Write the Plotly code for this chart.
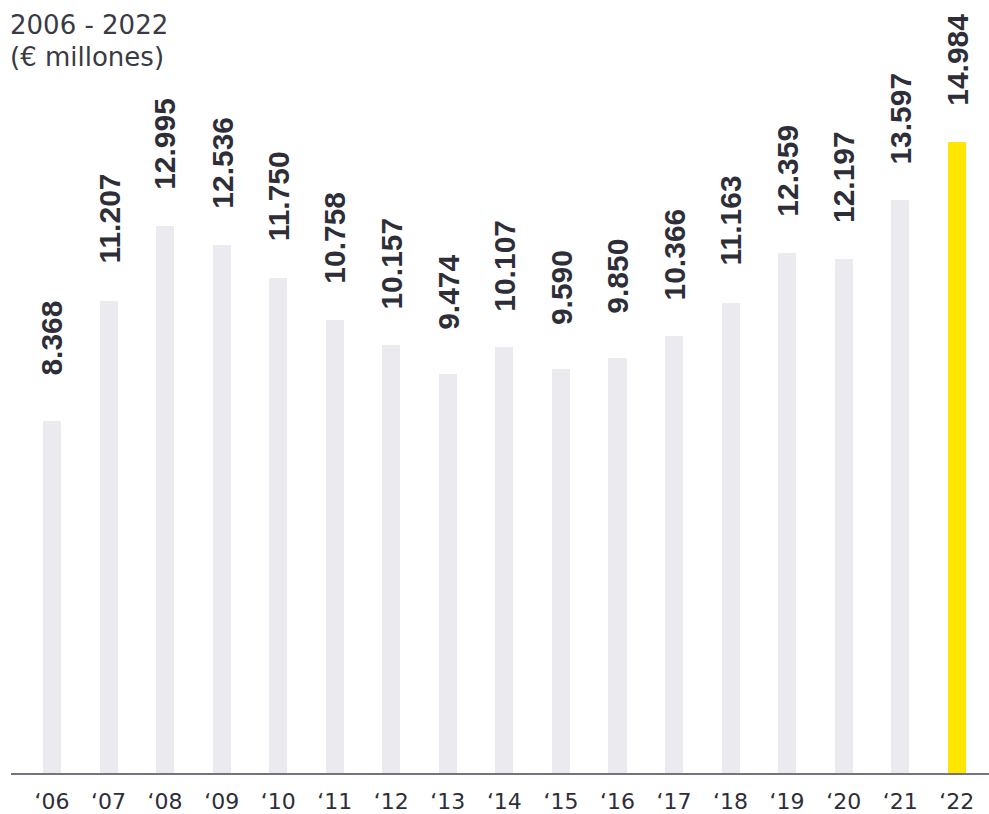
import plotly.graph_objects as go

years = ["\u201806", "\u201807", "\u201808", "\u201809", "\u201810", "\u201811", "\u201812", "\u201813",
         "\u201814", "\u201815", "\u201816", "\u201817", "\u201818", "\u201819", "\u201820", "\u201821", "\u201822"]
values = [8368, 11207, 12995, 12536, 11750, 10758, 10157, 9474,
          10107, 9590, 9850, 10366, 11163, 12359, 12197, 13597, 14984]
title_line1 = "2006 - 2022"
title_line2 = "(\u20ac millones)"

GRAY = "#ebebef"
YELLOW = "#ffe600"
TEXT = "#2e2e38"

colors = [GRAY] * (len(values) - 1) + [YELLOW]

fig = go.Figure()
fig.add_trace(go.Bar(
    x=years, y=values, marker=dict(color=colors, line=dict(width=0)),
    width=0.32, hoverinfo="skip",
))

def fmt(v):
    return f"{v:,}".replace(",", ".")

annotations = []
for yr, v in zip(years, values):
    annotations.append(dict(
        x=yr, y=v, xref="x", yref="y", text="<b>" + fmt(v) + "</b>", showarrow=False,
        textangle=-90, xanchor="center", yanchor="middle", yshift=82,
        font=dict(family="Liberation Sans", size=30, color=TEXT),
    ))
annotations.append(dict(
    x=0, y=1, xref="paper", yref="paper", text=title_line1, showarrow=False,
    xanchor="left", yanchor="middle", xshift=-3, yshift=15,
    font=dict(family="DejaVu Sans", size=26, color="#3a3a44"),
))
annotations.append(dict(
    x=0, y=1, xref="paper", yref="paper", text=title_line2, showarrow=False,
    xanchor="left", yanchor="middle", xshift=-3, yshift=-17,
    font=dict(family="DejaVu Sans", size=26, color="#3a3a44"),
))

fig.update_layout(
    width=989, height=814,
    margin=dict(l=11, r=0, t=40, b=41, autoexpand=False),
    paper_bgcolor="white", plot_bgcolor="white",
    showlegend=False,
    bargap=0,
    annotations=annotations,
    xaxis=dict(
        type="category", range=[-0.725, 16.57],
        showline=True, linecolor="#747480", linewidth=1.5,
        showgrid=False, zeroline=False, automargin=False,
        ticks="", ticklabelstandoff=8,
        tickfont=dict(family="DejaVu Sans", size=22, color=TEXT),
        fixedrange=True,
    ),
    yaxis=dict(
        range=[0, 17406], visible=False, showgrid=False, zeroline=False,
        fixedrange=True, automargin=False,
    ),
)

fig.write_html(
    "out.html",
    config={"displayModeBar": False, "staticPlot": True},
    post_script="document.body.style.margin='0';document.body.style.overflow='hidden';",
)
